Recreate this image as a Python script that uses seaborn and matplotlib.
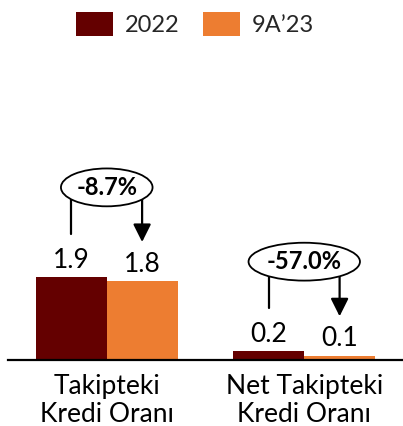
import matplotlib
matplotlib.use("Agg")
import matplotlib.pyplot as plt
import seaborn as sns
import pandas as pd
from matplotlib.patches import Patch

categories = ["Takipteki\nKredi Oranı", "Net Takipteki\nKredi Oranı"]
periods = ["2022", "9A\u201923"]
values_2022 = [1.9, 0.2]
values_9a23 = [1.8, 0.1]
changes = ["-8.7%", "-57.0%"]
colors = ["#640000", "#ED7D31"]

sns.set_theme(style="white")
plt.rcParams["font.family"] = ["Lato", "DejaVu Sans"]

df = pd.DataFrame({
    "category": categories * 2,
    "period": [periods[0]] * 2 + [periods[1]] * 2,
    "value": values_2022 + values_9a23,
})

W, H = 403, 426
fig = plt.figure(figsize=(W / 100, H / 100), dpi=100)
ax = fig.add_axes([8 / W, (H - 360) / H, (403 - 8) / W, 300 / H])

sns.barplot(data=df, x="category", y="value", hue="period", palette=colors,
            width=0.717, saturation=1, ax=ax, legend=False, linewidth=0)

FS = 19
for cont in ax.containers:
    ax.bar_label(cont, fmt="%.1f", padding=3, fontsize=FS, color="black")

ax.set_xlim(-0.5, 1.5)
ax.set_ylim(0, 300 / 43.7)
ax.set_xlabel("")
ax.set_ylabel("")
ax.set_yticks([])
for s in ["top", "right", "left"]:
    ax.spines[s].set_visible(False)
ax.spines["bottom"].set_color("black")
ax.spines["bottom"].set_linewidth(1.6)
ax.tick_params(axis="x", length=0, pad=10, labelsize=FS, colors="black")
for lbl in ax.get_xticklabels():
    lbl.set_linespacing(1.15)

off = 0.179
for i, (a, b, ch) in enumerate(zip(values_2022, values_9a23, changes)):
    top = max(a, b)
    yc = top + 2.05
    ax.plot([i - off, i - off], [yc, top + 0.98], color="black", lw=1.6, zorder=3)
    ax.annotate("", xy=(i + off, top + 0.80), xytext=(i + off, yc),
                arrowprops=dict(arrowstyle="-|>,head_length=0.9,head_width=0.45",
                                color="black", lw=1.6, shrinkA=0, shrinkB=0),
                zorder=3)
    ax.text(i, yc, ch, ha="center", va="center", fontsize=17, fontweight="bold",
            color="black", zorder=5,
            bbox=dict(boxstyle="ellipse,pad=0.08", fc="white", ec="black", lw=1.3))

handles = [Patch(facecolor=c, edgecolor="none") for c in colors]
fig.legend(handles, periods, loc="center", bbox_to_anchor=(195 / W, 1 - 24 / H),
           ncol=2, frameon=False, fontsize=17, handlelength=1.6, handleheight=1.19,
           handletextpad=0.5, columnspacing=0.97, borderaxespad=0)

fig.savefig("out.png", dpi=100)
